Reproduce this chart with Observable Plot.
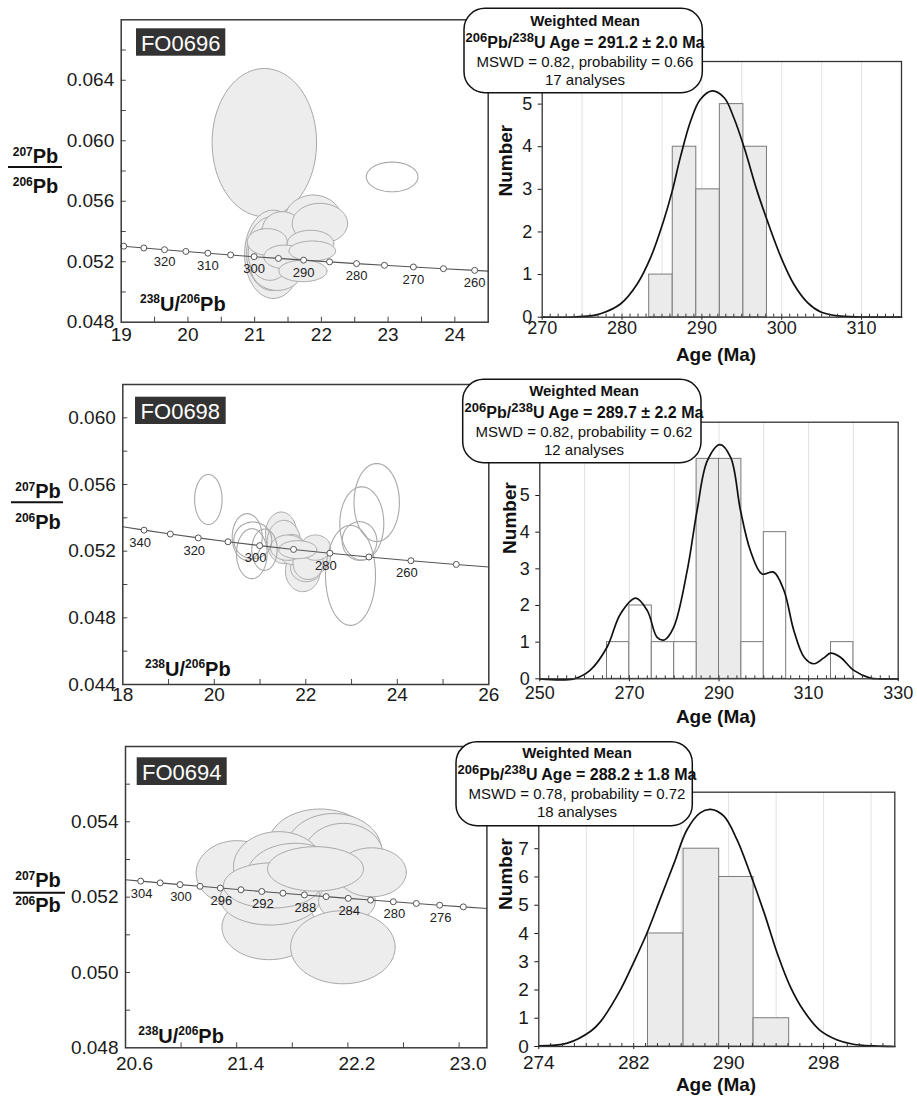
<!DOCTYPE html>
<html><head><meta charset="utf-8">
<script src="https://cdn.jsdelivr.net/npm/d3@7"></script>
<script src="https://cdn.jsdelivr.net/npm/@observablehq/plot@0.6"></script>
<style>
html,body{margin:0;padding:0;background:#fff;}
#root{position:relative;width:917px;height:1097px;overflow:hidden;background:#fff;font-family:Arial,"Liberation Sans",sans-serif;}
.panel{position:absolute;}
</style></head>
<body><div id="root"></div>
<script>
// ---------------- DATA ----------------
const sampleNames = ["FO0696", "FO0698", "FO0694"];
const meanAges = ["291.2 ± 2.0", "289.7 ± 2.2", "288.2 ± 1.8"];
const mswdValues = ["0.82", "0.82", "0.78"];
const probValues = ["0.66", "0.62", "0.72"];
const nAnalyses = [17, 12, 18];

// concordia age markers (Ma) and labelled ages
const concMarkers1 = [330, 325, 320, 315, 310, 305, 300, 295, 290, 285, 280, 275, 270, 265, 260];
const concLabels1 = [320, 310, 300, 290, 280, 270, 260];
const concMarkers2 = [340, 330, 320, 310, 300, 290, 280, 270, 260, 250];
const concLabels2 = [340, 320, 300, 280, 260];
const concMarkers3 = [304, 302, 300, 298, 296, 294, 292, 290, 288, 286, 284, 282, 280, 278, 276, 274];
const concLabels3 = [304, 300, 296, 292, 288, 284, 280, 276];

// error ellipses: [238U/206Pb, 207Pb/206Pb, x half-axis, y half-axis, used in mean (1) or not (0)]
const ellipses1 = [
  [21.145, 0.05988, 0.783, 0.00490, 1],
  [21.279, 0.05249, 0.430, 0.00292, 1],
  [21.879, 0.05464, 0.439, 0.00177, 1],
  [21.258, 0.05254, 0.379, 0.00244, 1],
  [21.339, 0.05165, 0.400, 0.00155, 1],
  [21.228, 0.05254, 0.325, 0.00177, 1],
  [21.414, 0.05409, 0.300, 0.00122, 1],
  [21.978, 0.05453, 0.415, 0.00133, 1],
  [21.189, 0.05331, 0.300, 0.00088, 1],
  [21.838, 0.05320, 0.349, 0.00088, 1],
  [21.448, 0.05232, 0.310, 0.00078, 1],
  [21.864, 0.05271, 0.349, 0.00066, 1],
  [21.723, 0.05139, 0.360, 0.00071, 1],
  [23.060, 0.05761, 0.387, 0.00098, 0]
];
const ellipses2 = [
  [21.462, 0.05301, 0.343, 0.00134, 1],
  [21.519, 0.05255, 0.364, 0.00130, 1],
  [21.934, 0.05081, 0.379, 0.00124, 1],
  [22.009, 0.05101, 0.343, 0.00084, 1],
  [22.175, 0.05165, 0.364, 0.00100, 1],
  [21.700, 0.05210, 0.300, 0.00090, 1],
  [22.050, 0.05130, 0.330, 0.00100, 1],
  [21.607, 0.05221, 0.379, 0.00076, 1],
  [22.212, 0.05221, 0.328, 0.00076, 1],
  [21.825, 0.05209, 0.415, 0.00054, 1],
  [19.870, 0.05510, 0.300, 0.00150, 0],
  [20.719, 0.05285, 0.328, 0.00140, 0],
  [20.842, 0.05265, 0.415, 0.00110, 0],
  [20.820, 0.05185, 0.335, 0.00150, 0],
  [21.097, 0.05209, 0.277, 0.00124, 0],
  [22.977, 0.05055, 0.546, 0.00300, 0],
  [23.550, 0.05492, 0.496, 0.00234, 0],
  [23.224, 0.05366, 0.481, 0.00220, 0],
  [23.174, 0.05261, 0.379, 0.00116, 0]
];
const ellipses3 = [
  [22.000, 0.05339, 0.372, 0.00095, 1],
  [22.096, 0.05321, 0.348, 0.00101, 1],
  [22.168, 0.05308, 0.288, 0.00088, 1],
  [21.634, 0.05120, 0.340, 0.00086, 1],
  [21.401, 0.05264, 0.293, 0.00086, 1],
  [21.701, 0.05281, 0.324, 0.00093, 1],
  [21.821, 0.05257, 0.348, 0.00086, 1],
  [21.641, 0.05197, 0.360, 0.00071, 1],
  [22.193, 0.05189, 0.204, 0.00053, 1],
  [21.653, 0.05231, 0.348, 0.00060, 1],
  [22.370, 0.05266, 0.250, 0.00065, 1],
  [21.967, 0.05275, 0.345, 0.00059, 1],
  [22.164, 0.05067, 0.376, 0.00097, 1]
];

// concordia axis ticks
const concXTicks1 = [19, 20, 21, 22, 23, 24];
const concYTicks1 = [0.048, 0.052, 0.056, 0.060, 0.064];
const concXTicks2 = [18, 20, 22, 24, 26];
const concYTicks2 = [0.044, 0.048, 0.052, 0.056, 0.060];
const concXTicks3 = [20.6, 21.4, 22.2, 23.0];
const concYTicks3 = [0.048, 0.050, 0.052, 0.054];

// histograms
const histEdges1 = [283.4, 286.35, 289.3, 292.25, 295.2, 298.15];
const histCounts1 = [1, 4, 3, 5, 4];
const histEdges2 = [265, 270, 275, 280, 285, 290, 295, 300, 305, 310, 315, 320];
const histCounts2 = [1, 2, 1, 1, 6, 6, 1, 4, 0, 0, 1];
const histShaded2 = [0, 0, 0, 0, 1, 1, 0, 0, 0, 0, 0];
const histEdges3 = [283.2, 286.2, 289.2, 292.1, 295.1];
const histCounts3 = [4, 7, 6, 1];

// probability curves
const curveAge1 = [270, 274, 276, 277.3, 279.8, 281.9, 283.6, 285.2, 286.3, 287.3, 288.6, 289.8, 291.3, 292.8, 294.0, 295.3, 296.9, 298.2, 299.9, 301.5, 303.2, 304.9, 307, 310, 315];
const curveN1 = [0, 0.005, 0.03, 0.08, 0.31, 0.78, 1.41, 2.26, 2.97, 3.75, 4.61, 5.11, 5.31, 5.15, 4.68, 3.98, 2.97, 2.26, 1.41, 0.78, 0.35, 0.12, 0.03, 0.005, 0];
const curveAge2 = [250, 257.6, 261.2, 265, 268, 271.4, 274, 276.2, 277.8, 279.9, 282.9, 285.1, 287.4, 290.2, 292.6, 294.8, 297, 299.6, 302.2, 304.5, 306.7, 309, 311.2, 313.4, 314.9, 317.1, 320.1, 323.8, 326, 330];
const curveN2 = [0, 0, 0.23, 0.86, 1.77, 2.2, 1.86, 1.13, 1.06, 1.41, 2.95, 4.59, 5.95, 6.39, 6.04, 4.59, 3.5, 2.86, 2.91, 2.41, 1.32, 0.59, 0.41, 0.57, 0.7, 0.59, 0.23, 0.02, 0, 0];
const curveAge3 = [274, 276.4, 278.4, 279.2, 280.9, 282.0, 283.1, 284.2, 285.4, 286.5, 287.6, 288.5, 289.6, 290.7, 291.8, 293.0, 294.1, 295.2, 296.3, 297.7, 299.1, 300.5, 302.2, 304];
const curveN3 = [0.02, 0.12, 0.55, 0.88, 2.02, 2.98, 4.0, 5.19, 6.49, 7.68, 8.27, 8.39, 8.15, 7.32, 6.14, 4.72, 3.29, 2.11, 1.28, 0.57, 0.24, 0.08, 0.02, 0];

const histXTicks1 = [270, 280, 290, 300, 310];
const histXTicks2 = [250, 270, 290, 310, 330];
const histXTicks3 = [274, 282, 290, 298];
const histYTicks1 = [0, 1, 2, 3, 4, 5];
const histYTicks2 = [0, 1, 2, 3, 4, 5];
const histYTicks3 = [0, 1, 2, 3, 4, 5, 6, 7];
const histGrid1 = [275, 280, 285, 290, 295, 300, 305, 310];
const histGrid2 = [260, 270, 280, 290, 300, 310, 320];
const histGrid3 = [278, 282, 286, 290, 294, 298, 302];

// ---------------- HELPERS ----------------
const FONT = 'Arial, "Liberation Sans", sans-serif';
const L238 = 1.55125e-10, L235 = 9.8485e-10, U_RATIO = 137.88;
const twX = t => 1 / Math.expm1(L238 * t * 1e6);
const twY = t => Math.expm1(L235 * t * 1e6) / Math.expm1(L238 * t * 1e6) / U_RATIO;
const ageAtX = x => Math.log1p(1 / x) / (L238 * 1e6);

const root = document.getElementById("root");
function place(el, left, top, w, h) {
  const d = document.createElement("div");
  d.className = "panel";
  d.style.left = left + "px"; d.style.top = top + "px";
  d.style.width = w + "px"; d.style.height = h + "px";
  d.appendChild(el);
  root.appendChild(d);
}

function makeConcordia(o) {
  const fw = o.width - o.ml - o.mr, fh = o.height - o.mt - o.mb;
  const ell = [];
  o.ellipses.forEach(([cx, cy, sx, sy, used], i) => {
    for (let k = 0; k <= 96; k++) {
      const a = 2 * Math.PI * k / 96;
      ell.push({id: i, used, x: cx + sx * Math.cos(a), y: cy + sy * Math.sin(a)});
    }
  });
  const lineAges = [ageAtX(o.xDomain[0]), ...o.markers, ageAtX(o.xDomain[1])];
  const line = lineAges.map(t => ({x: twX(t), y: twY(t)}));
  const dots = o.markers.map(t => ({x: twX(t), y: twY(t)}));
  const labs = o.labels.map(t => ({x: twX(t), y: twY(t), text: String(t)}));
  const xMinor = d3.range(o.xDomain[0] + o.xStep, o.xDomain[1] - 1e-9, o.xStep);
  const yMinor = d3.range(o.yDomain[0] + o.yStep, o.yDomain[1] - 1e-9, o.yStep);
  const svg = Plot.plot({
    width: o.width, height: o.height,
    marginTop: o.mt, marginBottom: o.mb, marginLeft: o.ml, marginRight: o.mr,
    style: {background: "none", fontFamily: FONT, fontSize: "19px", color: "#1a1a1a", overflow: "visible"},
    x: {domain: o.xDomain, ticks: o.xTicks, tickFormat: o.xFormat, tickSize: 0, tickPadding: o.xPad, label: null},
    y: {domain: o.yDomain, ticks: o.yTicks, tickFormat: d3.format(".3f"), tickSize: 0, tickPadding: 7, label: null},
    marks: [
      Plot.line(ell.filter(d => d.used), {x: "x", y: "y", z: "id", fill: "#ededed", stroke: "#a8a8a8", strokeWidth: 1}),
      Plot.line(ell.filter(d => !d.used), {x: "x", y: "y", z: "id", fill: "none", stroke: "#a8a8a8", strokeWidth: 1.1}),
      Plot.line(line, {x: "x", y: "y", stroke: "#555", strokeWidth: 1.1}),
      Plot.dot(dots, {x: "x", y: "y", r: 3, fill: "white", stroke: "#555", strokeWidth: 1}),
      Plot.text(labs, {x: "x", y: "y", text: "text", dy: 12.5, dx: o.labelDx, fontSize: 13, fill: "#222"}),
      Plot.tickX(xMinor, {x: d => d, insetTop: fh - 5, stroke: "#444"}),
      Plot.tickY(yMinor, {y: d => d, insetRight: fw - 5, stroke: "#444"}),
      Plot.frame({stroke: "#3a3a3a", strokeWidth: 1.5})
    ]
  });
  if (o.xLabelDx) {
    svg.querySelectorAll('[aria-label^="x-axis"] text').forEach(t => t.setAttribute("dx", o.xLabelDx));
  }
  return svg;
}

function makeHist(o) {
  const fh = o.height - o.mt - o.mb;
  const bins = o.counts.map((n, i) => ({x1: o.edges[i], x2: o.edges[i + 1], n, shaded: o.shaded ? o.shaded[i] : 1}))
    .filter(d => d.n > 0);
  const curve = o.curveX.map((x, i) => ({x, y: o.curveY[i]}));
  const minor = d3.range(o.xDomain[0] + o.minorStep, o.xDomain[1] - 1e-9, o.minorStep);
  return Plot.plot({
    width: o.width, height: o.height,
    marginTop: o.mt, marginBottom: o.mb, marginLeft: o.ml, marginRight: o.mr,
    style: {background: "none", fontFamily: FONT, fontSize: o.fontSize + "px", color: "#1a1a1a", overflow: "visible"},
    x: {domain: o.xDomain, ticks: o.xTicks, tickFormat: d3.format("d"), tickSize: 3, tickPadding: o.xPad, label: null},
    y: {domain: [0, o.yMax], ticks: o.yTicks, tickFormat: d3.format("d"), tickSize: 4, tickPadding: 6, label: null},
    marks: [
      Plot.ruleX(o.grid, {x: d => d, stroke: "#e2e2e2", strokeWidth: 1}),
      Plot.rect(bins.filter(d => d.shaded), {x1: "x1", x2: "x2", y1: 0, y2: "n", fill: "#ebebeb", stroke: "#7a7a7a", strokeWidth: 1}),
      Plot.rect(bins.filter(d => !d.shaded), {x1: "x1", x2: "x2", y1: 0, y2: "n", fill: "#ffffff", stroke: "#7a7a7a", strokeWidth: 1}),
      Plot.line(curve, {x: "x", y: "y", curve: "catmull-rom", stroke: "#111", strokeWidth: 1.7}),
      Plot.tickX(minor, {x: d => d, insetTop: fh - 3, stroke: "#333"}),
      Plot.frame({stroke: "#333", strokeWidth: 1.3})
    ]
  });
}

// ---------------- PANELS ----------------
const concCfg = [
  {left: 0, top: 0, width: 500, height: 350, mt: 19.3, mb: 28.3, ml: 120.7, mr: 12.3,
   xDomain: [19, 24.5], yDomain: [0.048, 0.068], xTicks: concXTicks1, yTicks: concYTicks1, xFormat: d3.format("d"),
   xStep: 0.5, yStep: 0.002, xPad: 5, ellipses: ellipses1, markers: concMarkers1, labels: concLabels1, labelDx: 0},
  {left: 0, top: 365, width: 500, height: 345, mt: 19, mb: 26, ml: 122.3, mr: 11.7,
   xDomain: [18, 26], yDomain: [0.044, 0.062], xTicks: concXTicks2, yTicks: concYTicks2, xFormat: d3.format("d"),
   xStep: 1, yStep: 0.002, xPad: 3, ellipses: ellipses2, markers: concMarkers2, labels: concLabels2, labelDx: -4},
  {left: 0, top: 728, width: 500, height: 369, mt: 18, mb: 49.7, ml: 125, mr: 13.6,
   xDomain: [20.6, 23.2], yDomain: [0.048, 0.056], xTicks: concXTicks3, yTicks: concYTicks3, xFormat: d3.format(".1f"),
   xStep: 0.4, yStep: 0.001, xPad: 9, xLabelDx: 9, ellipses: ellipses3, markers: concMarkers3, labels: concLabels3, labelDx: 1}
];
const histCfg = [
  {left: 500, top: 0, width: 417, height: 370, mt: 61, mb: 53.3, ml: 41.7, mr: 16, fontSize: 18, xPad: 1.5,
   xDomain: [270, 315], yMax: 6, yTicks: histYTicks1, xTicks: histXTicks1, grid: histGrid1, minorStep: 1,
   edges: histEdges1, counts: histCounts1, curveX: curveAge1, curveY: curveN1},
  {left: 500, top: 365, width: 417, height: 362, mt: 56.7, mb: 48.7, ml: 39.3, mr: 19.3, fontSize: 18, xPad: 4.5,
   xDomain: [250, 330], yMax: 7, yTicks: histYTicks2, xTicks: histXTicks2, grid: histGrid2, minorStep: 2,
   edges: histEdges2, counts: histCounts2, shaded: histShaded2, curveX: curveAge2, curveY: curveN2},
  {left: 500, top: 728, width: 417, height: 369, mt: 63.7, mb: 51, ml: 38.3, mr: 22.7, fontSize: 19, xPad: 5.5,
   xDomain: [274, 304], yMax: 9, yTicks: histYTicks3, xTicks: histXTicks3, grid: histGrid3, minorStep: 1,
   edges: histEdges3, counts: histCounts3, curveX: curveAge3, curveY: curveN3}
];
concCfg.forEach(c => place(makeConcordia(c), c.left, c.top, c.width, c.height));
histCfg.forEach(c => place(makeHist(c), c.left, c.top, c.width, c.height));

// ---------------- ANNOTATIONS ----------------
const ov = d3.create("svg").attr("width", 917).attr("height", 1097)
  .style("position", "absolute").style("left", "0px").style("top", "0px")
  .style("font-family", FONT).attr("fill", "#111");

function rich(x, y, anchor, weight, parts) {
  const t = ov.append("text").attr("x", x).attr("y", y).attr("text-anchor", anchor)
    .attr("font-weight", weight).attr("fill", "#111");
  parts.forEach(([s, size, dy]) => t.append("tspan").attr("font-size", size).attr("dy", dy).text(s));
  return t;
}

const ann = [
  {frac: {cx: 35.5, num: 163, ly: 167, lx1: 8, lx2: 62, den: 193}, inner: {x: 140, y: 310.5},
   sample: {x: 136, y: 28.3, w: 89.3, h: 27.4, base: 50.5},
   wm: {x: 464, y: 8.3, w: 238.3, h: 84.4, cx: 585, base: [25.5, 48.3, 66.7, 84.5]},
   number: {x: 505.5, y: 160.7}, age: {x: 716, y: 361}},
  {frac: {cx: 38, num: 497.7, ly: 502.3, lx1: 11, lx2: 63, den: 529}, inner: {x: 145, y: 676},
   sample: {x: 135, y: 396.7, w: 90.7, h: 27.3, base: 419},
   wm: {x: 462.7, y: 379.3, w: 238.3, h: 83.4, cx: 584, base: [396, 418.3, 437, 455]},
   number: {x: 509, y: 518}, age: {x: 716, y: 722.5}},
  {frac: {cx: 38, num: 887, ly: 892.7, lx1: 13, lx2: 65, den: 912}, inner: {x: 138.3, y: 1043},
   sample: {x: 136.7, y: 757.3, w: 90, h: 27.7, base: 780},
   wm: {x: 456, y: 741.7, w: 236.3, h: 84, cx: 577, base: [758.3, 780.3, 799.3, 817]},
   number: {x: 505, y: 874}, age: {x: 716, y: 1091}}
];

ann.forEach((a, r) => {
  // y-axis fraction label
  rich(a.frac.cx, a.frac.num, "middle", "bold", [["207", 12, -7], ["Pb", 20, 7]]);
  ov.append("line").attr("x1", a.frac.lx1).attr("x2", a.frac.lx2).attr("y1", a.frac.ly).attr("y2", a.frac.ly)
    .attr("stroke", "#111").attr("stroke-width", 2);
  rich(a.frac.cx, a.frac.den, "middle", "bold", [["206", 12, -7], ["Pb", 20, 7]]);
  // x-axis label inside plot
  rich(a.inner.x, a.inner.y, "start", "bold", [["238", 12, -8], ["U/", 20, 8], ["206", 12, -8], ["Pb", 20, 8]]);
  // sample tag
  ov.append("rect").attr("x", a.sample.x).attr("y", a.sample.y).attr("width", a.sample.w).attr("height", a.sample.h).attr("fill", "#333");
  ov.append("text").attr("x", a.sample.x + a.sample.w / 2).attr("y", a.sample.base).attr("text-anchor", "middle")
    .attr("font-size", 22).attr("fill", "#fff").text(sampleNames[r]);
  // weighted mean box
  ov.append("rect").attr("x", a.wm.x).attr("y", a.wm.y).attr("width", a.wm.w).attr("height", a.wm.h)
    .attr("rx", 21).attr("ry", 21).attr("fill", "#fff").attr("stroke", "#111").attr("stroke-width", 1.5);
  ov.append("text").attr("x", a.wm.cx).attr("y", a.wm.base[0]).attr("text-anchor", "middle")
    .attr("font-weight", "bold").attr("font-size", 15).attr("fill", "#111").text("Weighted Mean");
  rich(a.wm.cx, a.wm.base[1], "middle", "bold",
    [["206", 13, -6], ["Pb/", 16, 6], ["238", 13, -6], ["U Age = " + meanAges[r] + " Ma", 16, 6]]);
  ov.append("text").attr("x", a.wm.cx).attr("y", a.wm.base[2]).attr("text-anchor", "middle")
    .attr("font-size", 15).attr("fill", "#111").text(`MSWD = ${mswdValues[r]}, probability = ${probValues[r]}`);
  ov.append("text").attr("x", a.wm.cx).attr("y", a.wm.base[3]).attr("text-anchor", "middle")
    .attr("font-size", 15).attr("fill", "#111").text(`${nAnalyses[r]} analyses`);
  // histogram axis titles
  ov.append("text").attr("transform", `translate(${a.number.x},${a.number.y}) rotate(-90)`)
    .attr("text-anchor", "middle").attr("dominant-baseline", "central")
    .attr("font-weight", "bold").attr("font-size", 19).attr("fill", "#111").text("Number");
  ov.append("text").attr("x", a.age.x).attr("y", a.age.y).attr("text-anchor", "middle")
    .attr("font-weight", "bold").attr("font-size", 19).attr("fill", "#111").text("Age (Ma)");
});
root.appendChild(ov.node());
</script>
</body></html>
